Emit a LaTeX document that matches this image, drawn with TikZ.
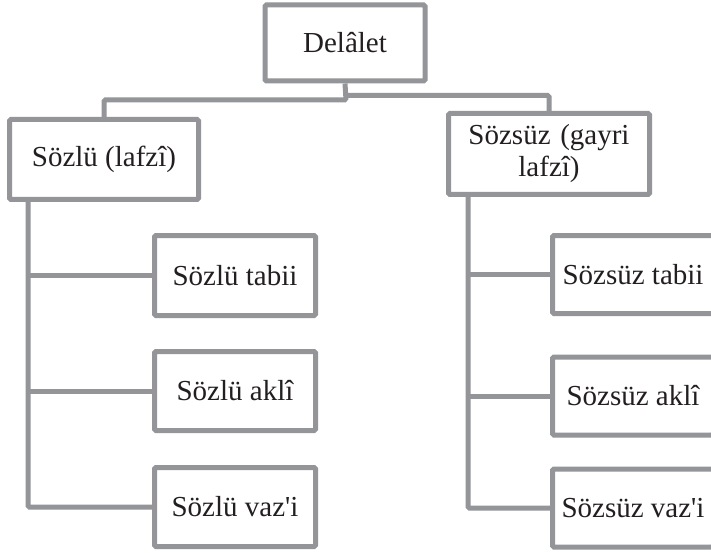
\documentclass[tikz,border=0pt]{standalone}
\usepackage{fontspec}
\setmainfont{Liberation Serif}[Ligatures=TeXOff]
\definecolor{boxgray}{HTML}{939598}
\definecolor{txt}{HTML}{231F20}
\begin{document}
\begin{tikzpicture}[x=1pt,y=-1pt,
  box/.style={draw=boxgray, line width=5pt, rounded corners=1.5pt, fill=white,
    inner sep=0pt, text=txt, align=center,
    font=\fontsize{29}{32}\selectfont},
  link/.style={draw=boxgray, line width=5pt, rounded corners=1.5pt}]
\clip (0,0) rectangle (711,553);
\fill[white] (0,0) rectangle (711,553);
% main
\node[box, minimum width=160pt, minimum height=76pt] (D) at (345,43) {Delâlet};
\node[box, minimum width=189pt, minimum height=80pt] (L) at (104,159.5) {Sözlü (lafzî)};
\node[box, minimum width=201pt, minimum height=81pt, text width=195pt] (R) at (549,154) {Sözsüz (gayri\\lafzî)};
% left children
\node[box, minimum width=161pt, minimum height=80pt] (L1) at (235,275.5) {Sözlü tabii};
\node[box, minimum width=161pt, minimum height=79pt] (L2) at (235,391) {Sözlü aklî};
\node[box, minimum width=161pt, minimum height=79pt] (L3) at (235,507) {Sözlü vaz'i};
% right children
\node[box, minimum width=161pt, minimum height=78pt] (R1) at (633,274.5) {Sözsüz tabii};
\node[box, minimum width=161pt, minimum height=78pt] (R2) at (633,396) {Sözsüz aklî};
\node[box, minimum width=161pt, minimum height=78pt] (R3) at (633,508) {Sözsüz vaz'i};
% connectors
\coordinate (lt) at (346,100);
\coordinate (rt) at (346,95.5);
\coordinate (lx) at (28,0);
\coordinate (rx) at (468,0);
\draw[link] (D.south) -- (lt) -| (L.north);
\draw[link] (rt) -| (R.north);
\draw[link] (L.south -| lx) |- (L3.west);
\draw[link] (lx |- L1.west) -- (L1.west);
\draw[link] (lx |- L2.west) -- (L2.west);
\draw[link] (R.south -| rx) |- (R3.west);
\draw[link] (rx |- R1.west) -- (R1.west);
\draw[link] (rx |- R2.west) -- (R2.west);
\end{tikzpicture}
\end{document}
